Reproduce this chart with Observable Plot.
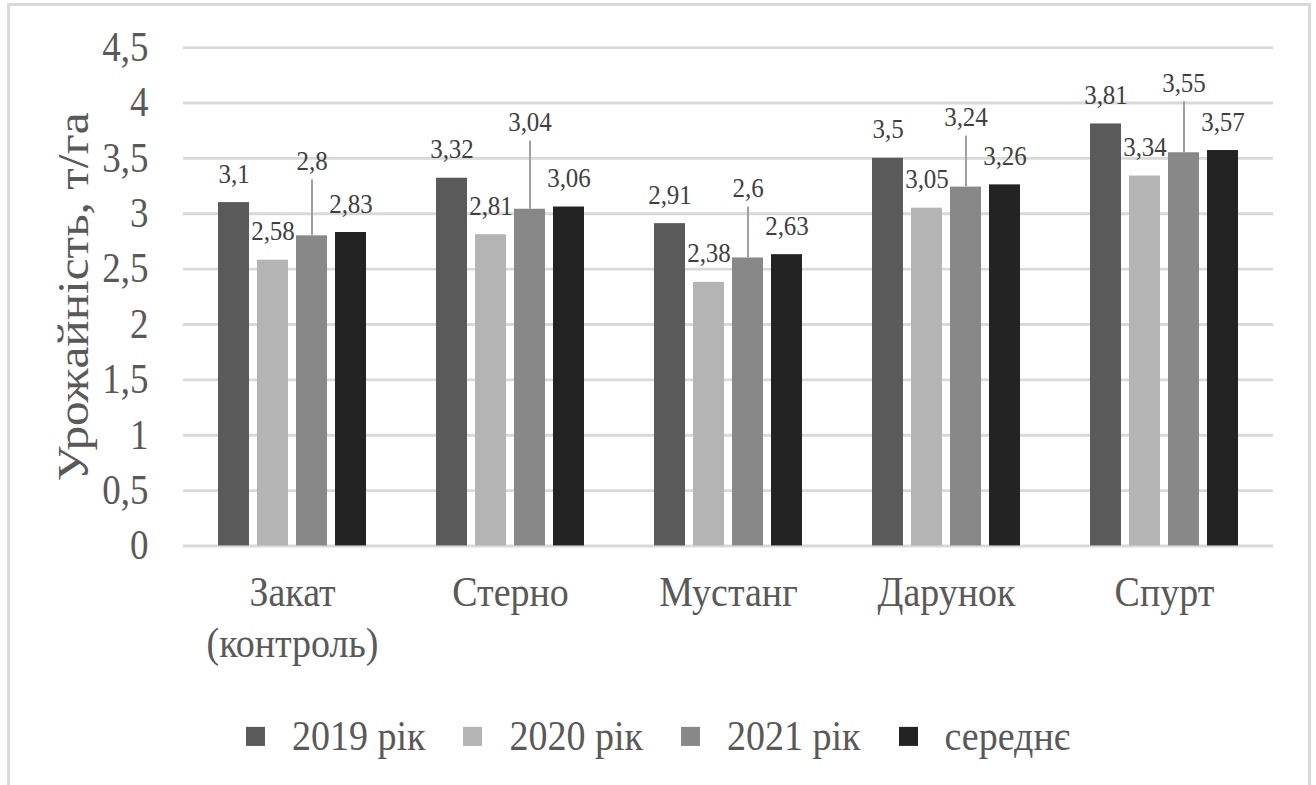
<!DOCTYPE html>
<html>
<head>
<meta charset="utf-8">
<script src="https://cdn.jsdelivr.net/npm/d3@7"></script>
<script src="https://cdn.jsdelivr.net/npm/@observablehq/plot@0.6"></script>
<style>
  html, body { margin: 0; padding: 0; background: #ffffff; }
  body { width: 1316px; height: 785px; position: relative; overflow: hidden; font-family: 'Liberation Serif', 'Times New Roman', serif; }
  #frame { position: absolute; left: 7px; top: 3px; width: 1298px; height: 800px; border: 3px solid #d9d9d9; box-sizing: content-box; }
  #wrap { position: absolute; left: 0; top: 0; width: 1316px; height: 700px; transform-origin: 0 0; }
  #chart { position: absolute; left: 0; top: 0; }
  #legend { position: absolute; left: 0; width: 1316px; display: flex; justify-content: center; align-items: center; color: #595959; font-size: 38px; line-height: 1.15; }
  .item { display: flex; align-items: center; margin: 0 19px; }
  .sw { width: 19px; height: 17px; margin-right: 27px; }
</style>
</head>
<body>
<div id="frame"></div>
<div id="wrap">
  <div id="chart"></div>
  <div id="legend"></div>
</div>
<script>
// ---- data ----
const categories = ["Закат\n(контроль)", "Стерно", "Мустанг", "Дарунок", "Спурт"];
const series = ["2019 рік", "2020 рік", "2021 рік", "середнє"];
const v2019 = [3.10, 3.32, 2.91, 3.50, 3.81];
const v2020 = [2.58, 2.81, 2.38, 3.05, 3.34];
const v2021 = [2.80, 3.04, 2.60, 3.24, 3.55];
const vMean = [2.83, 3.06, 2.63, 3.26, 3.57];
const yTicks = [0, 0.5, 1, 1.5, 2, 2.5, 3, 3.5, 4, 4.5];
const yTitle = "Урожайність, т/га";

// ---- styling ----
const colors = ["#5a5a5a", "#b4b4b4", "#888888", "#232323"];
const S = 1.12; // the reference is drawn slightly taller than wide
document.getElementById("wrap").style.transform = `scaleY(${S})`;
document.getElementById("legend").style.top = (712 / S) + "px";
const W = 1316, H = 616, mL = 183, mR = 43, mT = 42, mB = 129;
const pxPerUnit = (H - mT - mB) / (yTicks[yTicks.length - 1]);
// on-screen lift (px) of the 2021 callout labels above their bars
const calloutLift = [75, 87, 70, 70, 70];

const valuesBySeries = [v2019, v2020, v2021, vMean];
const rows = categories.flatMap((c, i) => series.map((s, j) => ({
  category: c, series: s, value: valuesBySeries[j][i]
})));
const fmt = v => String(v).replace(".", ",");

const plainLabels = rows.filter(d => d.series !== "2021 рік");
const callouts = categories.map((c, i) => ({
  category: c, series: "2021 рік", value: v2021[i],
  labelY: v2021[i] + calloutLift[i] / S / pxPerUnit,
  lineTop: v2021[i] + (calloutLift[i] - 19) / S / pxPerUnit
}));

const chart = Plot.plot({
  width: W, height: H,
  marginLeft: mL, marginRight: mR, marginTop: mT, marginBottom: mB,
  style: { fontFamily: "'Liberation Serif', 'Times New Roman', serif", color: "#595959", background: "transparent", overflow: "visible" },
  fx: { domain: categories, padding: 0, axis: null, label: null },
  x: { domain: series, paddingInner: 0.21, paddingOuter: 0.879, axis: null, label: null },
  y: { domain: [0, 4.5], axis: null },
  color: { domain: series, range: colors },
  marks: [
    Plot.gridY(yTicks, { stroke: "#d9d9d9", strokeOpacity: 1, strokeWidth: 2.5 }),
    Plot.barY(rows, { fx: "category", x: "series", y: "value", fill: "series" }),
    Plot.text(plainLabels, { fx: "category", x: "series", y: "value", text: d => fmt(d.value), dy: -29 / S, fontSize: 25, fill: "#404040" }),
    Plot.ruleX(callouts, { fx: "category", x: "series", y1: "value", y2: "lineTop", stroke: "#a0a0a0", strokeWidth: 2 }),
    Plot.text(callouts, { fx: "category", x: "series", y: "labelY", text: d => fmt(d.value), fontSize: 25, fill: "#404040" }),
    Plot.text(categories, { fx: d => d, text: d => d, frameAnchor: "bottom", lineAnchor: "top", dy: 21, fontSize: 38, lineHeight: 1.2, fill: "#595959" }),
    Plot.axisY(yTicks, {
      tickSize: 0, tickPadding: 35, fontSize: 37, tickFormat: fmt, fill: "#595959"
    }),
    Plot.axisY({
      ticks: [], label: yTitle, labelAnchor: "center", labelArrow: "none", labelOffset: 127, fontSize: 44
    })
  ]
});
document.getElementById("chart").appendChild(chart);

// ---- legend ----
const legend = document.getElementById("legend");
series.forEach((s, i) => {
  const item = document.createElement("div");
  item.className = "item";
  const sw = document.createElement("span");
  sw.className = "sw";
  sw.style.background = colors[i];
  const t = document.createElement("span");
  t.textContent = s;
  item.appendChild(sw); item.appendChild(t);
  legend.appendChild(item);
});
</script>
</body>
</html>
